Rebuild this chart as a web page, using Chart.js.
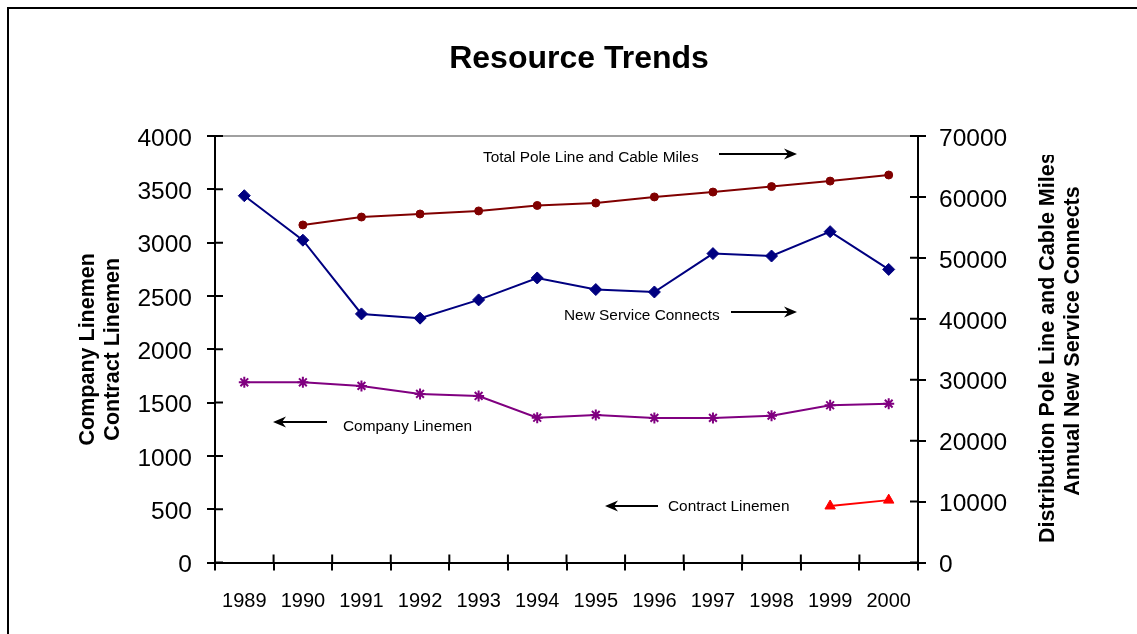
<!DOCTYPE html>
<html>
<head>
<meta charset="utf-8">
<script src="https://cdn.jsdelivr.net/npm/chart.js@4.4.0/dist/chart.umd.min.js"></script>
<style>
html,body{margin:0;padding:0;background:#fff;}
#wrap{position:relative;width:1137px;height:634px;overflow:hidden;}
#c{position:absolute;left:0;top:0;}
#frame{position:absolute;left:7px;top:7px;width:1200px;height:700px;border-top:2px solid #000;border-left:2px solid #000;pointer-events:none;}
</style>
</head>
<body>
<div id="wrap"><canvas id="c" width="1137" height="634"></canvas><div id="frame"></div></div>
<script>
// ---- data ----
const years = ['1989','1990','1991','1992','1993','1994','1995','1996','1997','1998','1999','2000'];
const companyLinemen = [1690,1690,1656,1581,1562,1358,1384,1356,1356,1377,1475,1490];
const contractLinemen = [null,null,null,null,null,null,null,null,null,null,530,585];
const poleLineMiles = [null,55400,56700,57200,57700,58600,59000,60000,60800,61700,62600,63600];
const newServiceConnects = [60200,52900,40800,40100,43100,46700,44800,44400,50700,50300,54300,48100];
const leftTicks = [0,500,1000,1500,2000,2500,3000,3500,4000];
const rightTicks = [0,10000,20000,30000,40000,50000,60000,70000];
const chartTitle = 'Resource Trends';
const leftTitle = ['Company Linemen','Contract Linemen'];
const rightTitle = ['Distribution Pole Line and Cable Miles','Annual New Service Connects'];
const noteTexts = ['Total Pole Line and Cable Miles','New Service Connects','Company Linemen','Contract Linemen'];

// ---- annotation placement (layout only) ----
const notePlacement = [
  {tx:483, ty:158, ax1:719, ax2:797, ay:154},
  {tx:564, ty:316, ax1:731, ax2:797, ay:312},
  {tx:343, ty:427, ax1:327, ax2:273, ay:422},
  {tx:668, ty:507, ax1:658, ax2:605, ay:506}
];

const F = '"Liberation Sans", Arial, Helvetica, sans-serif';
Chart.defaults.color = '#000';
Chart.defaults.font.family = F;

function arrow(ctx, x1, x2, y) {
  ctx.save();
  ctx.strokeStyle = '#000';
  ctx.fillStyle = '#000';
  ctx.lineWidth = 2;
  const dir = x2 > x1 ? 1 : -1;
  ctx.beginPath();
  ctx.moveTo(x1, y);
  ctx.lineTo(x2 - dir * 6, y);
  ctx.stroke();
  ctx.beginPath();
  ctx.moveTo(x2, y);
  ctx.lineTo(x2 - dir * 13, y - 5.5);
  ctx.lineTo(x2 - dir * 9, y);
  ctx.lineTo(x2 - dir * 13, y + 5.5);
  ctx.closePath();
  ctx.fill();
  ctx.restore();
}

const decor = {
  id: 'decor',
  afterDraw(chart) {
    const ctx = chart.ctx;
    const a = chart.chartArea;
    const xs = chart.scales.x, yl = chart.scales.y, yr = chart.scales.y1;
    ctx.save();
    // plot-area top border
    ctx.strokeStyle = '#808080';
    ctx.lineWidth = 1.5;
    ctx.beginPath();
    ctx.moveTo(a.left, a.top);
    ctx.lineTo(a.right, a.top);
    ctx.stroke();
    // inward halves of crossing ticks
    ctx.strokeStyle = '#000';
    ctx.lineWidth = 2;
    ctx.beginPath();
    leftTicks.forEach(v => { const y = yl.getPixelForValue(v); ctx.moveTo(a.left, y); ctx.lineTo(a.left + 8, y); });
    rightTicks.forEach(v => { const y = yr.getPixelForValue(v); ctx.moveTo(a.right - 8, y); ctx.lineTo(a.right, y); });
    const step = xs.getPixelForValue(1) - xs.getPixelForValue(0);
    for (let i = 0; i <= years.length; i++) {
      const x = xs.getPixelForValue(0) + (i - 0.5) * step;
      ctx.moveTo(x, a.bottom - 8); ctx.lineTo(x, a.bottom);
    }
    ctx.stroke();

    // axis titles
    ctx.fillStyle = '#000';
    ctx.font = 'bold 21.5px ' + F;
    ctx.textBaseline = 'middle';
    const cy = (a.top + a.bottom) / 2;
    ctx.save();
    ctx.textAlign = 'center';
    ctx.translate(0, cy);
    ctx.rotate(-Math.PI / 2);
    ctx.fillText(leftTitle[0], 0, 88);
    ctx.fillText(leftTitle[1], 0, 113);
    ctx.restore();

    // right title: first line starts at the bottom and is cut off at the top, as in the original
    ctx.save();
    ctx.beginPath();
    ctx.rect(1020, 155, 117, 634 - 155);
    ctx.clip();
    ctx.translate(0, 543);
    ctx.rotate(-Math.PI / 2);
    ctx.textAlign = 'left';
    ctx.fillText(rightTitle[0], 0, 1048);
    ctx.restore();
    ctx.save();
    ctx.textAlign = 'center';
    ctx.translate(0, 341);
    ctx.rotate(-Math.PI / 2);
    ctx.fillText(rightTitle[1], 0, 1073);
    ctx.restore();

    // annotations
    ctx.font = '15.4px ' + F;
    ctx.textAlign = 'left';
    ctx.textBaseline = 'middle';
    noteTexts.forEach((t, i) => {
      const p = notePlacement[i];
      ctx.fillText(t, p.tx, p.ty);
      arrow(ctx, p.ax1, p.ax2, p.ay);
    });
    ctx.restore();
  }
};

new Chart(document.getElementById('c'), {
  type: 'line',
  data: {
    labels: years,
    datasets: [
      {label: 'Total Pole Line and Cable Miles', data: poleLineMiles, yAxisID: 'y1',
       borderColor: '#800000', backgroundColor: '#800000', borderWidth: 2,
       pointStyle: 'circle', pointRadius: 4, pointBorderWidth: 1, tension: 0},
      {label: 'New Service Connects', data: newServiceConnects, yAxisID: 'y1',
       borderColor: '#000080', backgroundColor: '#000080', borderWidth: 2,
       pointStyle: 'rectRot', pointRadius: 6, pointBorderWidth: 1, tension: 0},
      {label: 'Company Linemen', data: companyLinemen, yAxisID: 'y',
       borderColor: '#800080', backgroundColor: '#800080', borderWidth: 2,
       pointStyle: 'star', pointRadius: 5.5, pointBorderWidth: 2, tension: 0},
      {label: 'Contract Linemen', data: contractLinemen, yAxisID: 'y',
       borderColor: '#FF0000', backgroundColor: '#FF0000', borderWidth: 2,
       pointStyle: 'triangle', pointRadius: 6, pointBorderWidth: 1, tension: 0}
    ]
  },
  options: {
    responsive: false,
    animation: false,
    devicePixelRatio: 1,
    layout: {padding: {left: 21, right: 0, top: 0, bottom: 0}},
    plugins: {
      legend: {display: false},
      tooltip: {enabled: false},
      title: {display: true, text: chartTitle, color: '#000',
              font: {size: 32, weight: 'bold', family: F},
              padding: {top: 39.8, bottom: 57.8}}
    },
    scales: {
      x: {
        type: 'category', offset: true,
        grid: {offset: true, drawOnChartArea: false, drawTicks: true, tickLength: 8, color: '#000', lineWidth: 2},
        border: {display: true, color: '#000', width: 2},
        ticks: {color: '#000', font: {size: 20, family: F}, padding: 19, maxRotation: 0, autoSkip: false},
        afterFit(s) { s.height = 71.5; }
      },
      y: {
        position: 'left', min: 0, max: 4000,
        afterBuildTicks(s) { s.ticks = leftTicks.map(v => ({value: v})); },
        grid: {drawOnChartArea: false, tickLength: 8, color: '#000', lineWidth: 2},
        border: {display: true, color: '#000', width: 2},
        ticks: {color: '#000', font: {size: 24.5, family: F}, padding: 15, labelOffset: 3, callback: v => String(v)},
        afterFit(s) { s.width = 194; }
      },
      y1: {
        position: 'right', min: 0, max: 70000,
        afterBuildTicks(s) { s.ticks = rightTicks.map(v => ({value: v})); },
        grid: {drawOnChartArea: false, tickLength: 8, color: '#000', lineWidth: 2},
        border: {display: true, color: '#000', width: 2},
        ticks: {color: '#000', font: {size: 24.5, family: F}, padding: 13, labelOffset: 3, callback: v => String(v)},
        afterFit(s) { s.width = 219; }
      }
    }
  },
  plugins: [decor]
});
</script>
</body>
</html>
